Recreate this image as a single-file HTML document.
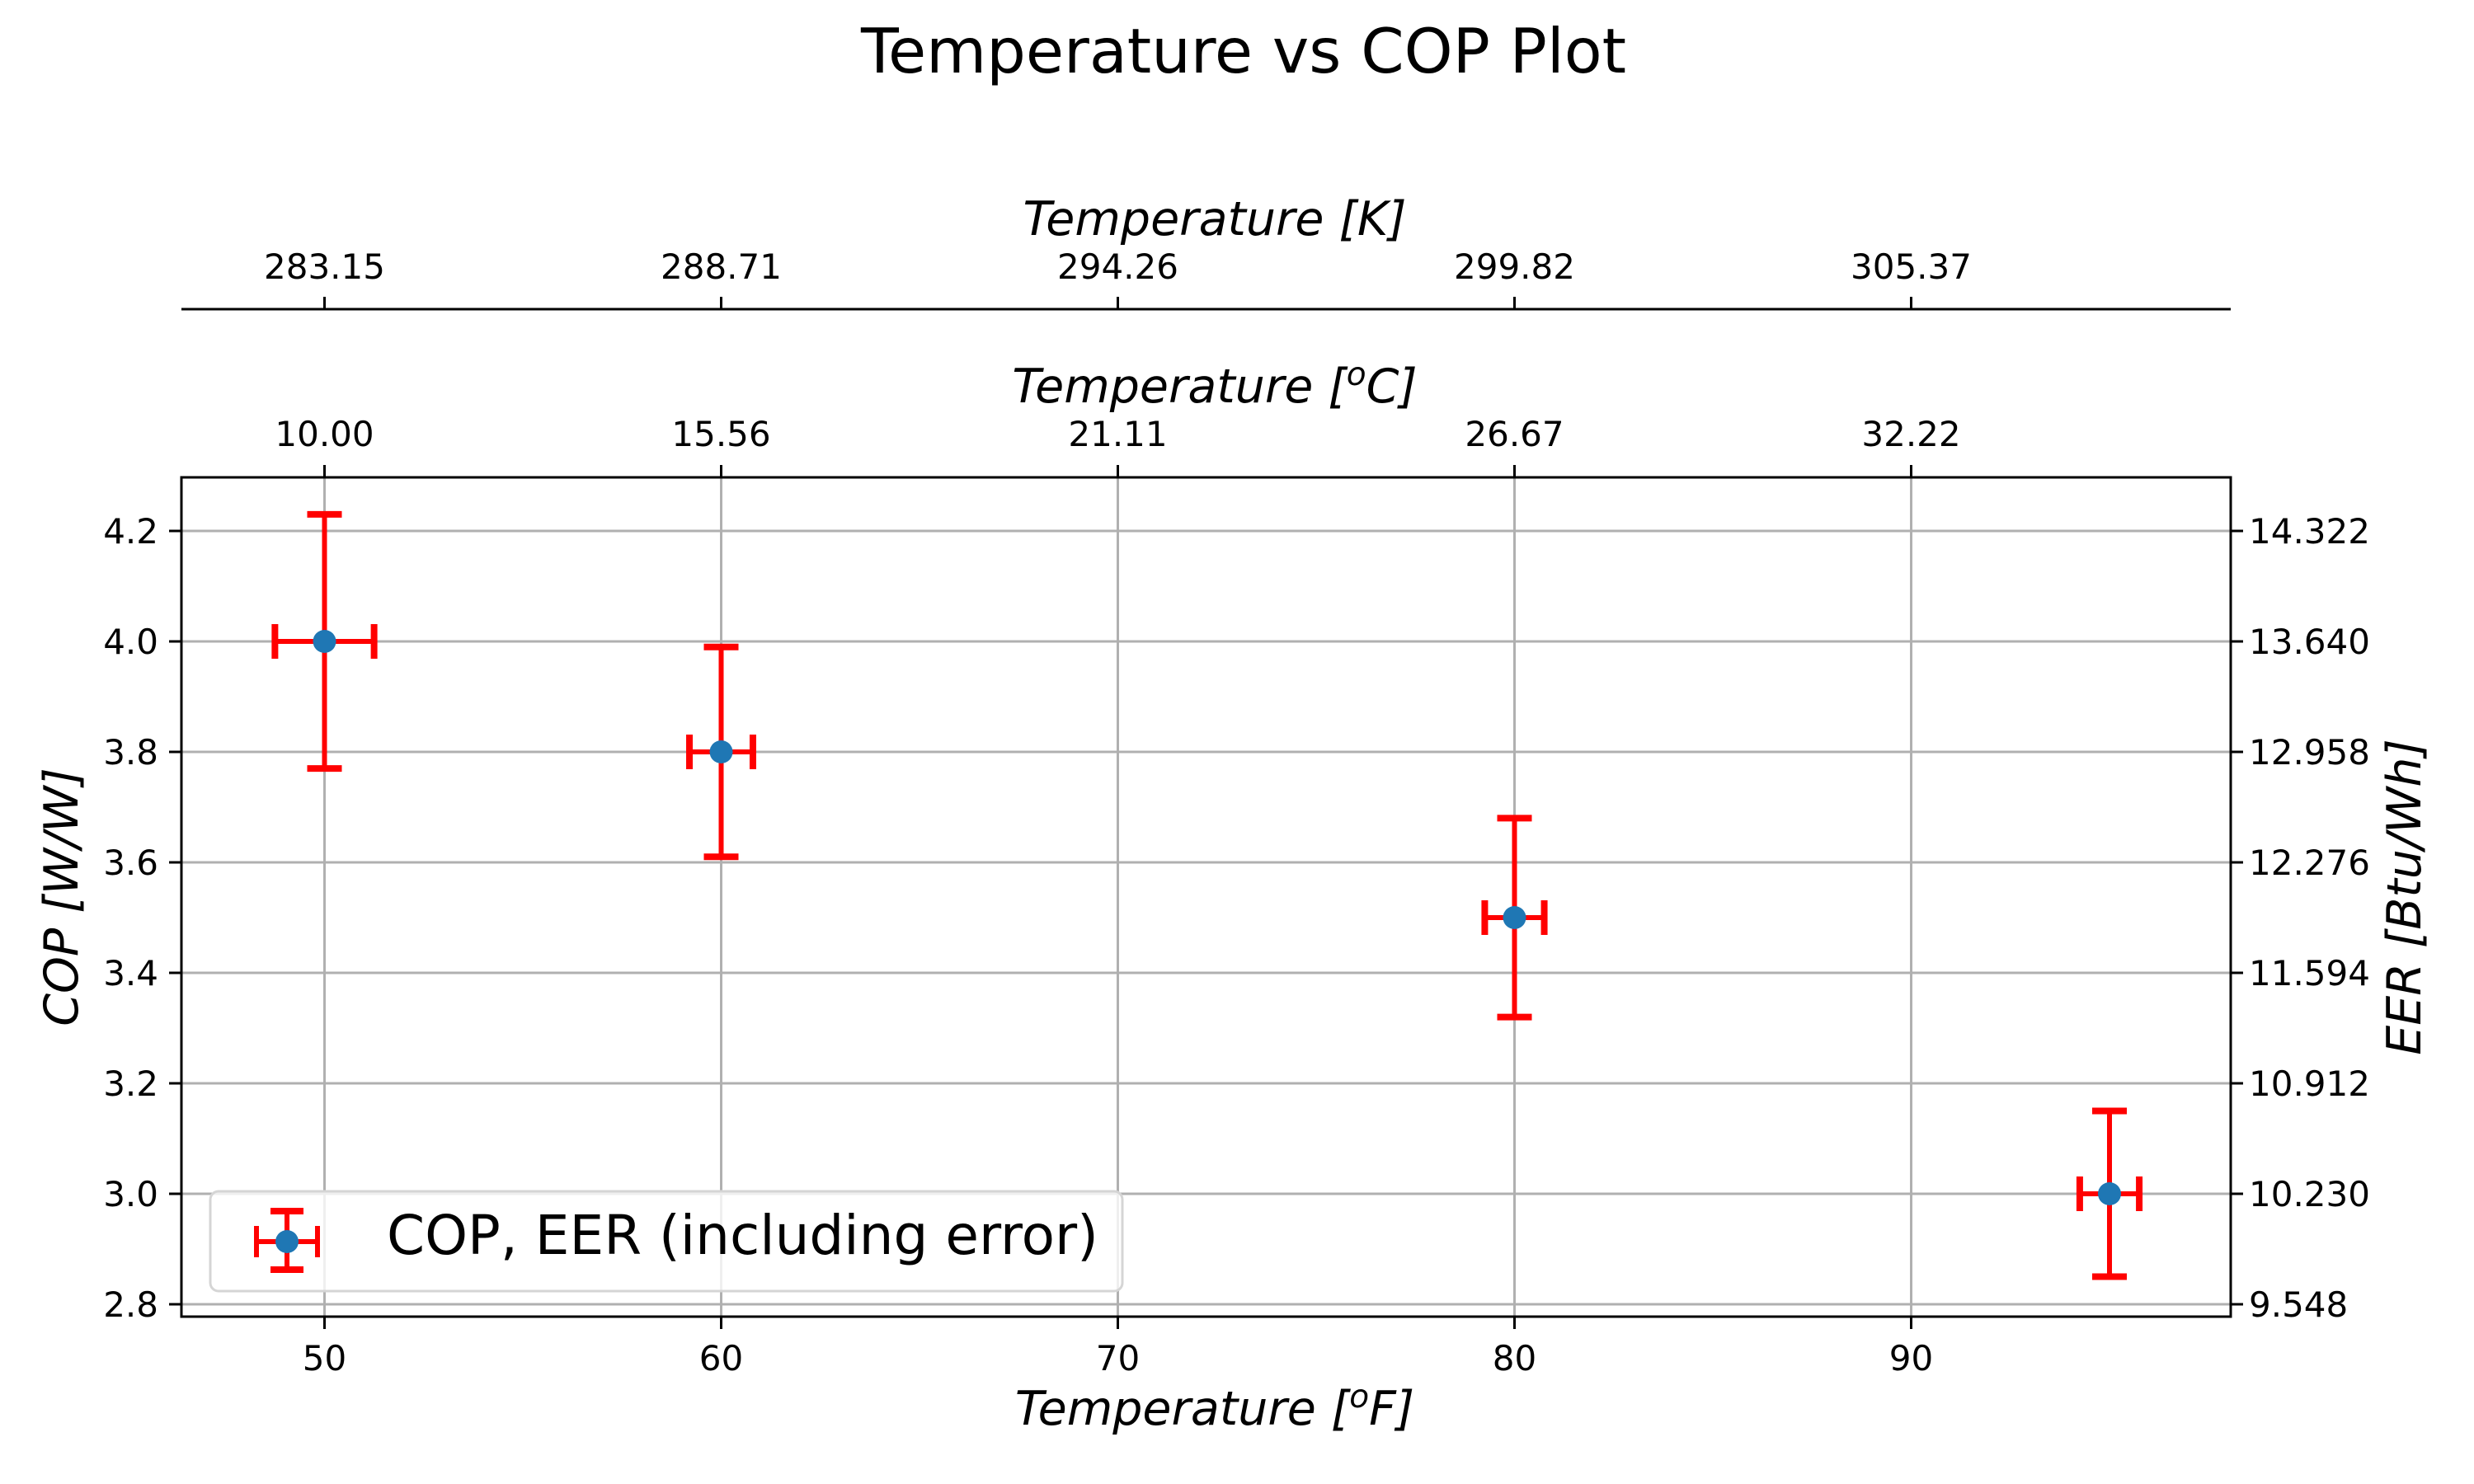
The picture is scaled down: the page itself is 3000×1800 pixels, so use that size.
<!DOCTYPE html>
<html><head><meta charset="utf-8"><style>
html,body{margin:0;padding:0;background:#fff;}
svg{display:block;font-family:"DejaVu Sans","Liberation Sans",sans-serif;}
</style></head><body>
<svg id="chart" width="3000" height="1800" viewBox="0 0 3000 1800" xmlns="http://www.w3.org/2000/svg">
<rect width="3000" height="1800" fill="#fff"/>
<text x="1508" y="88" font-size="75" text-anchor="middle">Temperature vs COP Plot</text>
<g id="grid"></g>
<g id="marks"></g>
<g id="axes"></g>
<text x="1473" y="285" font-size="57" font-style="italic" text-anchor="middle">Temperature [K]</text>
<text x="1473" y="488" font-size="57" font-style="italic" text-anchor="middle">Temperature [<tspan font-size="39" dy="-21">o</tspan><tspan dy="21">C]</tspan></text>
<text x="1473" y="1728" font-size="57" font-style="italic" text-anchor="middle">Temperature [<tspan font-size="39" dy="-21">o</tspan><tspan dy="21">F]</tspan></text>
<text transform="translate(94,1088) rotate(-90)" font-size="57" font-style="italic" text-anchor="middle">COP [W/W]</text>
<text transform="translate(2935,1088) rotate(-90)" font-size="57" font-style="italic" text-anchor="middle">EER [Btu/Wh]</text>
<g>
<rect x="255" y="1445" width="1106" height="121" rx="10" fill="#fff" fill-opacity="0.8" stroke="#d5d5d5" stroke-width="3"/>
<g stroke="#ff0000" stroke-width="6">
<line x1="311" y1="1506" x2="385" y2="1506"/><line x1="348" y1="1469" x2="348" y2="1540"/>
<line x1="311" y1="1487" x2="311" y2="1525"/><line x1="385" y1="1487" x2="385" y2="1525"/>
<line x1="328" y1="1469" x2="368" y2="1469" stroke-width="8"/><line x1="328" y1="1540" x2="368" y2="1540" stroke-width="8"/>
</g>
<circle cx="348" cy="1506" r="14" fill="#1f77b4"/>
<text x="469" y="1521" font-size="66">COP, EER (including error)</text>
</g>
</svg>
<script>
const temps = [50, 60, 80, 95];
const cop = [4.0, 3.8, 3.5, 3.0];
const copErr = [0.23, 0.19, 0.18, 0.15];
const tempErr = [1.25, 0.8, 0.75, 0.75];
const xTicks = [50, 60, 70, 80, 90];
const yTicks = [2.8, 3.0, 3.2, 3.4, 3.6, 3.8, 4.0, 4.2];
const cTickLabels = ["10.00", "15.56", "21.11", "26.67", "32.22"];
const kTickLabels = ["283.15", "288.71", "294.26", "299.82", "305.37"];
const eerTickLabels = ["9.548", "10.230", "10.912", "11.594", "12.276", "12.958", "13.640", "14.322"];

const L = 220, R = 2705, T = 579, B = 1597;
const xs = v => 393.5 + (v - 50) * 48.1;
const ys = v => 778 + (4 - v) * 670;
const NS = "http://www.w3.org/2000/svg";
function mk(parent, tag, attrs, text) {
  const el = document.createElementNS(NS, tag);
  for (const k in attrs) el.setAttribute(k, attrs[k]);
  if (text !== undefined) el.textContent = text;
  parent.appendChild(el);
  return el;
}
const grid = document.getElementById('grid');
const axes = document.getElementById('axes');
const marks = document.getElementById('marks');

xTicks.forEach((t, i) => {
  const x = xs(t);
  const g = mk(grid, 'line', {x1: x, y1: T, x2: x, y2: B, stroke: '#b0b0b0', 'stroke-width': 3});
  
  
  mk(axes, 'line', {x1: x, y1: B, x2: x, y2: B + 15, stroke: '#000', 'stroke-width': 3});
  const bl = mk(axes, 'text', {x: x, y: 1662, 'font-size': 42, 'text-anchor': 'middle'}, String(t));
  
  
  mk(axes, 'line', {x1: x, y1: T, x2: x, y2: T - 15, stroke: '#000', 'stroke-width': 3});
  const cl = mk(axes, 'text', {x: x, y: 541, 'font-size': 42, 'text-anchor': 'middle'}, cTickLabels[i]);
  
  
  mk(axes, 'line', {x1: x, y1: 375, x2: x, y2: 360, stroke: '#000', 'stroke-width': 3});
  const kl = mk(axes, 'text', {x: x, y: 338, 'font-size': 42, 'text-anchor': 'middle'}, kTickLabels[i]);
  
  
});
yTicks.forEach((t, i) => {
  const y = ys(t);
  const g = mk(grid, 'line', {x1: L, y1: y, x2: R, y2: y, stroke: '#b0b0b0', 'stroke-width': 3});
  
  
  mk(axes, 'line', {x1: L - 15, y1: y, x2: L, y2: y, stroke: '#000', 'stroke-width': 3});
  const yl = mk(axes, 'text', {x: 192, y: y + 15, 'font-size': 42, 'text-anchor': 'end'}, t.toFixed(1));
  
  
  mk(axes, 'line', {x1: R, y1: y, x2: R + 15, y2: y, stroke: '#000', 'stroke-width': 3});
  const rl = mk(axes, 'text', {x: 2727, y: y + 15, 'font-size': 42}, eerTickLabels[i]);
  
  
});
const frame = mk(axes, 'rect', {x: L, y: T, width: R - L, height: B - T, fill: 'none', stroke: '#000', 'stroke-width': 3});


const kline = mk(axes, 'line', {x1: L, y1: 375, x2: R, y2: 375, stroke: '#000', 'stroke-width': 3});



temps.forEach((t, i) => {
  const cx = xs(t), cy = ys(cop[i]);
  const x0 = xs(t - tempErr[i]), x1 = xs(t + tempErr[i]);
  const y0 = ys(cop[i] + copErr[i]), y1 = ys(cop[i] - copErr[i]);
  const g = mk(marks, 'g', {stroke: '#ff0000', 'stroke-width': 6});
  
  
  mk(g, 'line', {x1: x0, y1: cy, x2: x1, y2: cy});
  mk(g, 'line', {x1: cx, y1: y0, x2: cx, y2: y1});
  mk(g, 'line', {x1: x0, y1: cy - 21, x2: x0, y2: cy + 21, 'stroke-width': 8});
  mk(g, 'line', {x1: x1, y1: cy - 21, x2: x1, y2: cy + 21, 'stroke-width': 8});
  mk(g, 'line', {x1: cx - 21, y1: y0, x2: cx + 21, y2: y0, 'stroke-width': 8});
  mk(g, 'line', {x1: cx - 21, y1: y1, x2: cx + 21, y2: y1, 'stroke-width': 8});
  const p = mk(marks, 'circle', {cx: cx, cy: cy, r: 14, fill: '#1f77b4'});
  
  
});
</script>
</body></html>
